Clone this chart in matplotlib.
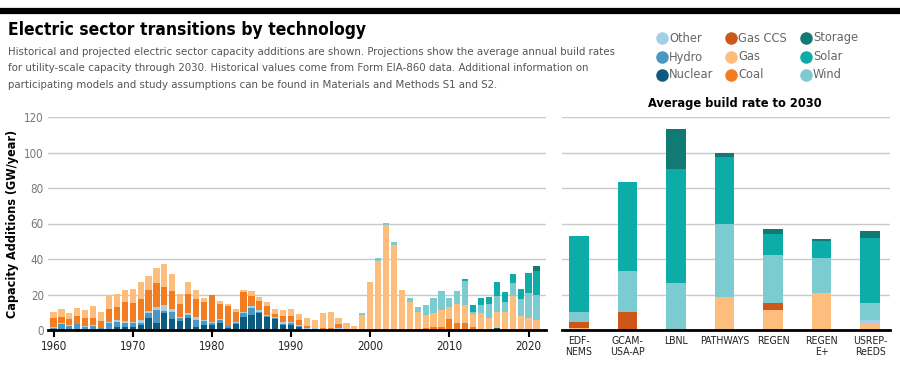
import matplotlib
matplotlib.use('Agg')
import matplotlib.pyplot as plt
from matplotlib import font_manager
from matplotlib.lines import Line2D
import numpy as np

# look for a narrow face; the original uses a condensed sans
narrow = None
for f in font_manager.fontManager.ttflist:
    if 'Narrow' in f.name or 'Condensed' in f.name or f.stretch in ('condensed', 'semi-condensed'):
        narrow = f
        if f.name == 'DejaVu Sans':
            break
if narrow is not None:
    plt.rcParams['font.family'] = [narrow.name, 'DejaVu Sans']
    plt.rcParams['font.stretch'] = narrow.stretch
    k = 1.0
else:
    plt.rcParams['font.family'] = ['Roboto', 'DejaVu Sans']
    k = 0.86

# historical additions, EIA-860 (GW/year), 1960-2021
years = list(range(1960, 2022))
nuclear = [0.3, 0.5, 0.3, 0.3, 0.2, 0.2, 0.2, 0.5, 1.9, 1.9,
           1.9, 2.8, 6.6, 4.1, 9.4, 6.2, 4.9, 6.6, 1.9, 3.0,
           3.0, 4.1, 1.0, 3.4, 7.6, 8.5, 9.5, 7.6, 6.1, 2.8,
           2.8, 1.5, 0.3, 0.7, 0.0, 0.3, 0.6, 0.0, 0.0, 0.0,
           0.0, 0.0, 0.0, 0.0, 0.0, 0.0, 0.0, 0.0, 0.0, 0.0,
           0.0, 0.0, 0.0, 0.0, 0.0, 0.0, 1.2, 0.0, 0.0, 0.0,
           0.0, 0.0]
hydro = [1.0, 2.8, 1.8, 2.8, 1.6, 1.9, 0.8, 3.6, 2.8, 2.3,
         1.9, 1.3, 2.8, 7.2, 1.5, 4.1, 1.7, 1.9, 3.7, 2.0,
         1.0, 1.3, 1.0, 0.8, 1.9, 3.8, 0.4, 0.4, 0.5, 0.8,
         1.0, 0.5, 0.3, 0.0, 0.0, 0.2, 0.0, 0.0, 0.0, 0.0,
         0.0, 0.0, 0.0, 0.0, 0.0, 0.0, 0.0, 0.0, 0.0, 0.0,
         0.3, 0.3, 0.3, 0.3, 0.0, 0.0, 0.0, 0.0, 0.0, 0.0,
         0.0, 0.0]
other = [0.3, 0.4, 0.5, 0.5, 0.5, 0.5, 0.3, 0.6, 0.9, 0.9,
         0.9, 1.5, 1.5, 1.5, 3.4, 1.5, 0.9, 0.9, 1.9, 0.7,
         0.7, 0.6, 0.3, 0.5, 0.9, 1.0, 1.1, 0.5, 0.6, 1.0,
         0.9, 0.8, 0.3, 0.2, 0.3, 0.3, 0.3, 0.2, 0.2, 0.2,
         0.2, 0.2, 0.2, 0.2, 0.3, 0.3, 0.2, 0.2, 0.3, 0.3,
         0.5, 0.5, 0.5, 0.5, 0.3, 0.3, 0.2, 0.2, 0.2, 0.2,
         0.2, 0.2]
coal = [4.9, 3.8, 3.8, 4.4, 4.5, 4.4, 3.9, 6.9, 7.2, 10.9,
        10.7, 11.9, 11.6, 13.9, 10.1, 10.4, 7.2, 10.7, 10.0, 10.0,
        15.0, 8.7, 11.5, 5.7, 10.9, 6.1, 5.5, 4.8, 1.9, 3.4,
        3.0, 2.9, 1.2, 0.3, 0.6, 0.6, 2.5, 0.3, 0.0, 0.0,
        0.0, 0.0, 0.0, 0.0, 0.0, 0.0, 0.5, 1.0, 1.3, 1.6,
        5.3, 3.0, 3.2, 0.9, 0.0, 0.0, 0.0, 0.0, 0.0, 0.0,
        0.0, 0.0]
gas = [3.8, 4.5, 3.4, 4.2, 4.5, 6.5, 5.1, 8.1, 7.5, 6.5,
       7.6, 9.5, 8.0, 8.1, 12.6, 9.2, 5.6, 7.2, 5.0, 2.1,
       0.3, 1.9, 1.0, 1.4, 1.5, 2.4, 1.9, 2.4, 2.7, 3.4,
       4.2, 3.3, 4.5, 4.5, 8.5, 8.8, 3.4, 3.6, 2.1, 8.5,
       26.6, 38.9, 59.2, 47.5, 22.0, 15.7, 9.3, 7.3, 7.8, 9.4,
       6.7, 10.8, 10.3, 7.5, 9.4, 6.3, 9.0, 9.8, 19.2, 7.7,
       6.4, 5.5]
wind = [0.0] * 39 + [0.8, 0.1, 1.7, 1.0, 1.7, 0.3, 1.9, 2.8, 5.7, 8.5, 10.4,
                     5.1, 7.4, 13.1, 1.0, 4.4, 8.1, 8.5, 6.0, 7.0, 9.4,
                     14.5, 14.2]
solar = [0.0] * 52 + [1.5, 4.0, 3.8, 3.8, 8.1, 5.3, 5.1, 5.7, 10.9, 13.2]
storage = [0.0] * 61 + [2.8]

# projected average build rate to 2030 (GW/year)
models = ['EDF-\nNEMS', 'GCAM-\nUSA-AP', 'LBNL', 'PATHWAYS', 'REGEN', 'REGEN\nE+', 'USREP-\nReEDS']
m_gas = [0.9, 0.0, 0.0, 18.4, 11.3, 20.7, 3.8]
m_gas_ccs = [3.8, 10.0, 0.0, 0.0, 3.8, 0.0, 0.0]
m_other = [0.0, 0.0, 0.0, 0.0, 0.0, 0.0, 1.9]
m_wind = [5.3, 23.1, 26.7, 41.4, 27.4, 19.9, 9.4]
m_solar = [43.0, 50.4, 63.9, 37.9, 11.6, 9.4, 37.0]
m_storage = [0.0, 0.0, 22.6, 1.9, 2.6, 1.1, 3.4]

colors = {
    'Other': '#a3d0e8', 'Hydro': '#4a97c2', 'Nuclear': '#0d5a7f',
    'Gas CCS': '#cc5718', 'Gas': '#fdbd7d', 'Coal': '#f47c20',
    'Storage': '#117a73', 'Solar': '#0eaca8', 'Wind': '#7bcbd0',
}

W, H = 900, 366
fig = plt.figure(figsize=(W / 100, H / 100), dpi=100)

# top rule and titles
fig.add_artist(Line2D([0, 1], [1 - 11 / H, 1 - 11 / H], color='black', lw=4.5))
fig.text(8 / W, 1 - 30 / H, 'Electric sector transitions by technology', fontsize=12.5 * k, fontweight='bold', va='center')
sub = ('Historical and projected electric sector capacity additions are shown. Projections show the average annual build rates\n'
       'for utility-scale capacity through 2030. Historical values come from Form EIA-860 data. Additional information on\n'
       'participating models and study assumptions can be found in Materials and Methods S1 and S2.')
fig.text(8 / W, 1 - 47 / H, sub, fontsize=8.2 * k, color='#555555', va='top', linespacing=1.8)

grid_c = '#c9c9c9'

ax = fig.add_axes([48 / W, 36 / H, 498 / W, 213 / H])
bottom = np.zeros(len(years))
for name, vals in [('Nuclear', nuclear), ('Hydro', hydro), ('Other', other), ('Coal', coal),
                   ('Gas', gas), ('Wind', wind), ('Solar', solar), ('Storage', storage)]:
    ax.bar(years, vals, 0.78, bottom=bottom, color=colors[name], zorder=3)
    bottom += np.array(vals)
ax.set_xlim(1959.3, 2022.2)
ax.set_ylim(0, 120)
ax.set_yticks(range(0, 121, 20))
ax.set_xticks(range(1960, 2021, 10))
ax.grid(axis='y', color=grid_c, lw=1, zorder=0)
for s in ['top', 'right', 'left']:
    ax.spines[s].set_visible(False)
ax.spines['bottom'].set_linewidth(2)
ax.spines['bottom'].set_zorder(4)
ax.tick_params(axis='y', length=0, labelsize=8.3 * k, labelcolor='#777777', pad=3)
ax.tick_params(axis='x', length=5, width=1.5, labelsize=8.3 * k, labelcolor='#222222', pad=2)
ax.set_ylabel('Capacity Additions (GW/year)', fontsize=9 * k, fontweight='bold', labelpad=4)

ax2 = fig.add_axes([562 / W, 36 / H, 328 / W, 213 / H])
pos = np.arange(len(models))
bottom = np.zeros(len(models))
for name, vals in [('Gas', m_gas), ('Gas CCS', m_gas_ccs), ('Other', m_other),
                   ('Wind', m_wind), ('Solar', m_solar), ('Storage', m_storage)]:
    ax2.bar(pos, vals, 0.4, bottom=bottom, color=colors[name], zorder=3)
    bottom += np.array(vals)
ax2.set_xlim(-0.35, 6.41)
ax2.set_ylim(0, 120)
ax2.set_yticks(range(0, 121, 20))
ax2.set_yticklabels([])
ax2.set_xticks(pos)
ax2.set_xticklabels(models, linespacing=1.15)
ax2.grid(axis='y', color=grid_c, lw=1, zorder=0)
for s in ['top', 'right', 'left']:
    ax2.spines[s].set_visible(False)
ax2.spines['bottom'].set_linewidth(2)
ax2.spines['bottom'].set_zorder(4)
ax2.tick_params(axis='y', length=0)
ax2.tick_params(axis='x', length=0, labelsize=7.6 * k, labelcolor='#222222', pad=4)
ax2.set_title('Average build rate to 2030', fontsize=9.2 * k, fontweight='bold', pad=7, x=0.527)

# legend: three columns of dots
cols = [['Other', 'Hydro', 'Nuclear'], ['Gas CCS', 'Gas', 'Coal'], ['Storage', 'Solar', 'Wind']]
col_x = [662, 731, 806]
row_y = [38, 57, 75]
for ci, names_col in enumerate(cols):
    for ri, n in enumerate(names_col):
        x = col_x[ci] / W
        y = 1 - row_y[ri] / H
        fig.add_artist(Line2D([x], [y], ls='', marker='o', ms=8, mfc=colors[n], mec=colors[n]))
        fig.text(x + 7 / W, y, n, fontsize=9.2 * k, color='#666666', va='center')

fig.savefig('out.png', dpi=100)
